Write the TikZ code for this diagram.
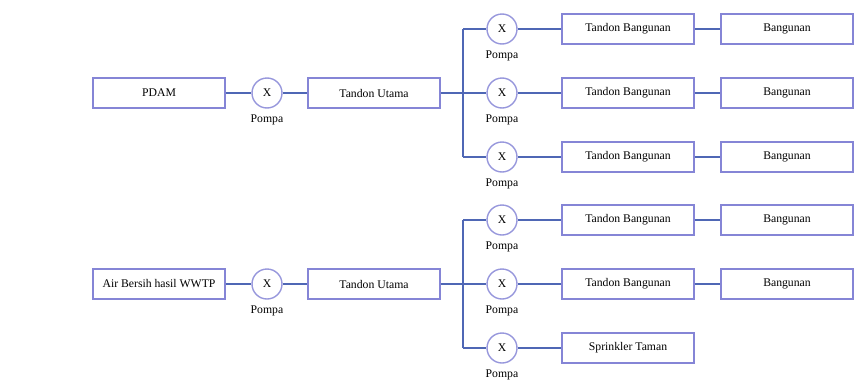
\documentclass[tikz,border=0pt]{standalone}
\usepackage{fontspec}
\setmainfont{Liberation Serif}
\usetikzlibrary{positioning,calc}
\definecolor{garis}{HTML}{8585D6}
\definecolor{pipa}{HTML}{4F67B5}
\tikzset{
  kotak/.style={draw=garis,line width=1.2pt,minimum width=3.96cm,minimum height=0.9cm,inner sep=0pt},
  pompa/.style={draw=garis!85,circle,line width=1.2pt,minimum size=0.9cm,inner sep=0pt},
  pipa/.style={draw=pipa,line width=1.1pt}
}
\begin{document}
\begin{tikzpicture}[x=0.03cm,y=-0.03cm]
  \useasboundingbox (0,0) rectangle (866,382);
  % jalur PDAM
  \node[kotak] (pdam) at (159,93) {PDAM};
  \node[pompa] (pa) at (267,93) {X};
  \node[below=2pt of pa] (lpa) {Pompa};
  \node[kotak] (tua) at (374,93) {Tandon Utama};
  \coordinate (ja) at (463,93);
  \coordinate (jat) at (463,29); \coordinate (jab) at (463,157);
  \draw[pipa] (pdam) -- (pa) -- (tua) -- (ja);
  \draw[pipa] (jat) -- (jab);
  \foreach \y/\i in {29/1,93/2,157/3}{
    \coordinate (ja\i) at (463,\y);
    \node[pompa] (pa\i) at (502,\y) {X};
    \node[below=2pt of pa\i] (lpa\i) {Pompa};
    \node[kotak] (tba\i) at (628,\y) {Tandon Bangunan};
    \node[kotak] (bga\i) at (787,\y) {Bangunan};
    \draw[pipa] (ja\i) -- (pa\i) -- (tba\i) -- (bga\i);
  }
  % jalur air bersih WWTP
  \node[kotak] (wwtp) at (159,284) {Air Bersih hasil WWTP};
  \node[pompa] (pb) at (267,284) {X};
  \node[below=2pt of pb] (lpb) {Pompa};
  \node[kotak] (tub) at (374,284) {Tandon Utama};
  \coordinate (jb) at (463,284);
  \coordinate (jbt) at (463,220); \coordinate (jbb) at (463,348);
  \draw[pipa] (wwtp) -- (pb) -- (tub) -- (jb);
  \draw[pipa] (jbt) -- (jbb);
  \foreach \y/\i in {220/1,284/2}{
    \coordinate (jb\i) at (463,\y);
    \node[pompa] (pb\i) at (502,\y) {X};
    \node[below=2pt of pb\i] (lpb\i) {Pompa};
    \node[kotak] (tbb\i) at (628,\y) {Tandon Bangunan};
    \node[kotak] (bgb\i) at (787,\y) {Bangunan};
    \draw[pipa] (jb\i) -- (pb\i) -- (tbb\i) -- (bgb\i);
  }
  \coordinate (jb3) at (463,348);
  \node[pompa] (pb3) at (502,348) {X};
  \node[below=2pt of pb3] (lpb3) {Pompa};
  \node[kotak] (spr) at (628,348) {Sprinkler Taman};
  \draw[pipa] (jb3) -- (pb3) -- (spr);
\end{tikzpicture}
\end{document}
